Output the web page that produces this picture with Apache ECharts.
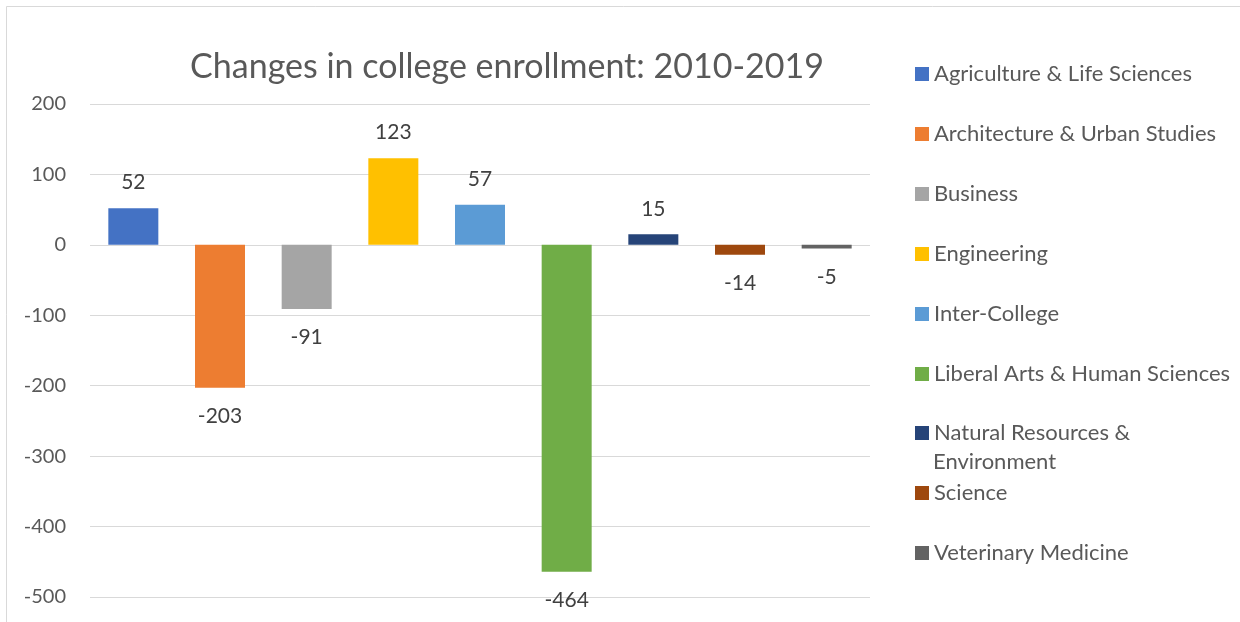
<!DOCTYPE html>
<html>
<head>
<meta charset="utf-8">
<script src="https://cdn.jsdelivr.net/npm/echarts@6/dist/echarts.min.js"></script>
<style>
html,body{margin:0;padding:0;background:#fff;}
#chart{width:1240px;height:622px;}
</style>
</head>
<body>
<div id="chart"></div>
<script>
const categories = ["Agriculture & Life Sciences","Architecture & Urban Studies","Business","Engineering","Inter-College","Liberal Arts & Human Sciences","Natural Resources & Environment","Science","Veterinary Medicine"];
const values = [52, -203, -91, 123, 57, -464, 15, -14, -5];
const colors = ["#4472C4","#ED7D31","#A5A5A5","#FFC000","#5B9BD5","#70AD47","#264478","#9E480E","#636363"];
const yTicks = [-500, -400, -300, -200, -100, 0, 100, 200];
const titleText = "Changes in college enrollment: 2010-2019";

const FONT = "Lato";
const chart = echarts.init(document.getElementById('chart'));

const series = categories.map((name, i) => {
  const data = categories.map((c, j) => j === i ? values[i] : '-');
  return {
    name: name,
    type: 'bar',
    stack: 'all',
    barWidth: 50,
    data: data,
    itemStyle: { color: colors[i] },
    label: {
      show: true,
      position: values[i] >= 0 ? 'top' : 'bottom',
      distance: values[i] >= 0 ? 15 : 18,
      color: '#404040',
      fontFamily: FONT,
      fontSize: 21
    }
  };
});

const legendTops = [58, 118, 178, 238, 298, 358, 417, 477, 537];
const legends = categories.map((name, i) => ({
  data: [name],
  orient: 'vertical',
  left: 910,
  top: legendTops[i],
  icon: 'rect',
  itemWidth: 14,
  itemHeight: 14,
  itemGap: 0,
  selectedMode: false,
  formatter: n => n === "Natural Resources & Environment" ? "Natural Resources &" : n,
  textStyle: { color: '#595959', fontFamily: FONT, fontSize: 22 }
}));

chart.setOption({
  animation: false,
  backgroundColor: '#fff',
  title: {
    text: titleText,
    left: 502,
    textAlign: 'center',
    top: 45,
    textStyle: { color: '#595959', fontFamily: FONT, fontSize: 34, fontWeight: 'normal' }
  },
  legend: legends,
  grid: { left: 90, right: 370, top: 104, bottom: 25 },
  xAxis: {
    type: 'category',
    data: categories,
    axisLine: { show: false },
    axisTick: { show: false },
    axisLabel: { show: false }
  },
  yAxis: {
    type: 'value',
    min: yTicks[0],
    max: yTicks[yTicks.length - 1],
    interval: 100,
    axisLine: { show: false },
    axisTick: { show: false },
    splitLine: { lineStyle: { color: '#d9d9d9', width: 1 } },
    axisLabel: { color: '#595959', fontFamily: FONT, fontSize: 20, margin: 24 }
  },
  series: series,
  graphic: [
    {
      type: 'rect',
      shape: { x: 6.5, y: 6.5, width: 1300, height: 700 },
      style: { fill: 'none', stroke: '#d9d9d9', lineWidth: 1 },
      silent: true
    },
    {
      type: 'text',
      left: 933,
      top: 451,
      style: { text: 'Environment', fill: '#595959', font: '22px Lato' },
      silent: true
    }
  ]
});
</script>
</body>
</html>
